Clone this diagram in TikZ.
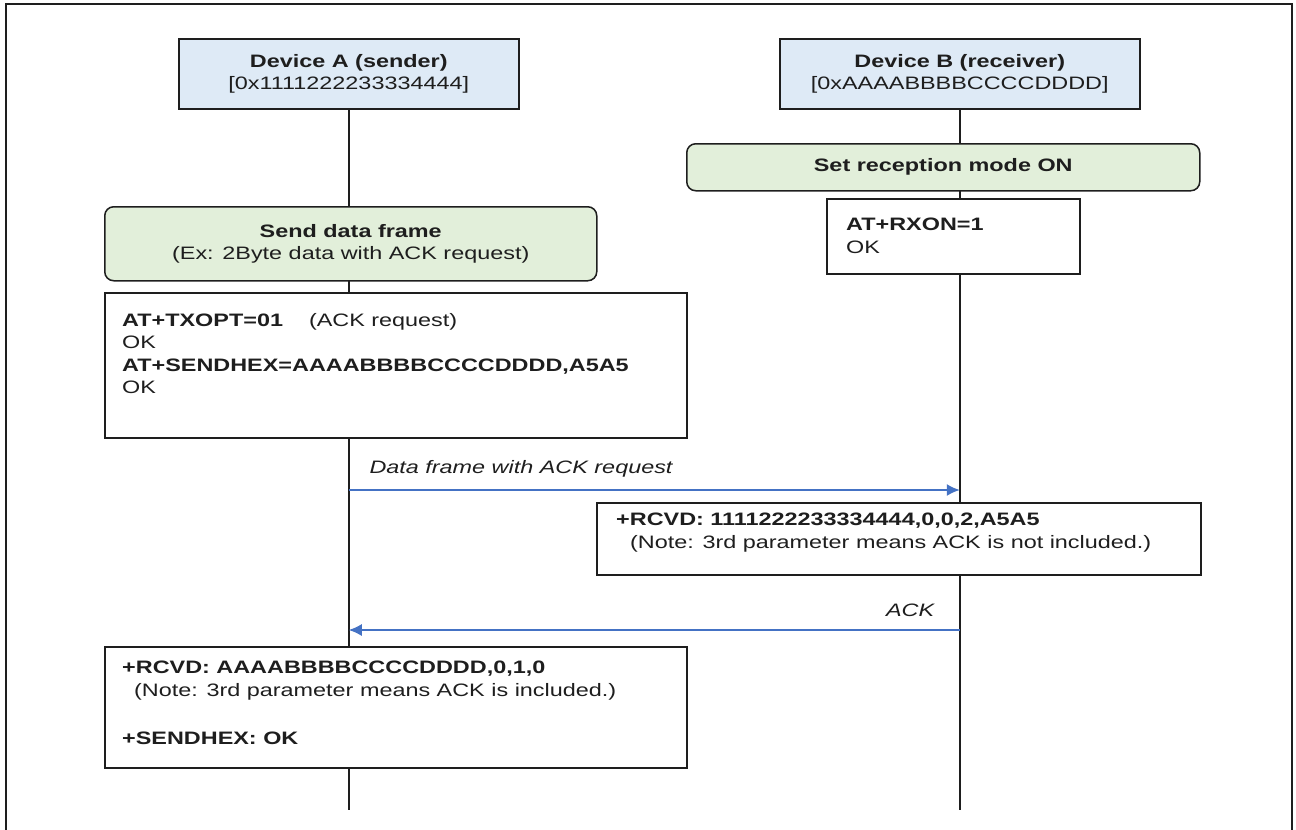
\documentclass[tikz,border=0pt]{standalone}
\usepackage{fontspec}
\setmainfont{Liberation Sans}[FakeStretch=1.3]
\usetikzlibrary{arrows.meta,positioning}
\definecolor{devblue}{HTML}{DEEAF6}
\definecolor{phasegreen}{HTML}{E2EFDA}
\definecolor{msgblue}{HTML}{4472C4}
\definecolor{inkgray}{HTML}{1E1E1E}
\tikzset{
  devbox/.style={draw=inkgray,line width=1.5pt,fill=devblue,align=center,inner sep=0pt,anchor=north west},
  phasebox/.style={draw=inkgray,line width=1.5pt,fill=phasegreen,rounded corners=9pt,align=center,inner sep=0pt,anchor=north west},
  cmdbox/.style={draw=inkgray,line width=1.5pt,fill=white,inner sep=0pt,anchor=north west},
  cmdtext/.style={anchor=north west,align=left,inner sep=0pt},
  msglabel/.style={text=inkgray,inner sep=0pt},
  lifeline/.style={line width=1.5pt,inkgray},
  msg/.style={line width=1.5pt,msgblue,-{Latex[length=13pt,width=12pt]}},
}
\begin{document}
\begin{tikzpicture}[x=1pt,y=-1pt,font=\fontsize{18}{22.5}\selectfont,text=inkgray]
    \useasboundingbox (0,0) rectangle (1296,830);
    \draw[line width=2pt,inkgray] (6,840) -- (6,4) -- (1292,4) -- (1292,840);
    % devices
    \node[devbox,minimum width=340,minimum height=70] (devA) at (178,38) {\textbf{Device A (sender)}\\ {[0x1111222233334444]}};
    \node[devbox,minimum width=360,minimum height=70] (devB) at (779,38) {\textbf{Device B (receiver)}\\ {[0xAAAABBBBCCCCDDDD]}};
    \coordinate (endA) at (devA.south |- 0,810);
    \coordinate (endB) at (devB.south |- 0,810);
    \draw[lifeline] (devA.south) -- (endA);
    \draw[lifeline] (devB.south) -- (endB);
    % device B setup
    \node[phasebox,minimum width=513,minimum height=47] (rxPhase) at (686,143) {\textbf{Set reception mode ON}};
    \node[cmdbox,minimum width=253,minimum height=75] (rxon) at (826,198) {};
    \node[cmdtext] (rxonText) at (846,218) {\textbf{AT+RXON=1}\\ OK};
    % device A send
    \node[phasebox,minimum width=492,minimum height=74] (txPhase) at (104,206) {\textbf{Send data frame}\\ (Ex: 2Byte data with ACK request)};
    \node[cmdbox,minimum width=582,minimum height=145] (txopt) at (104,292) {};
    \node[cmdtext] (txoptText) at (122,313) {\textbf{AT+TXOPT=01}\hspace{26pt}(ACK request)\\ OK\\ \textbf{AT+SENDHEX=AAAABBBBCCCCDDDD,A5A5}\\ OK};
    % data frame
    \coordinate (dataA) at (devA.south |- 0,490);
    \coordinate (dataB) at (devB.south |- 0,490);
    \draw[msg] (dataA) -- node[msglabel,at start,anchor=base west,xshift=20pt,yshift=17pt] (dataLbl) {\textit{Data frame with ACK request}} (dataB);
    \node[cmdbox,minimum width=604,minimum height=72] (rcvdB) at (596,502) {};
    \node[cmdtext] (rcvdBText) at (616,513) {\textbf{+RCVD: 1111222233334444,0,0,2,A5A5}\\ \hspace{14pt}(Note: 3rd parameter means ACK is not included.)};
    % ack
    \coordinate (ackB) at (devB.south |- 0,630);
    \coordinate (ackA) at (devA.south |- 0,630);
    \draw[msg] (ackB) -- node[msglabel,at start,anchor=base east,xshift=-24pt,yshift=14pt] (ackLbl) {\textit{ACK}} (ackA);
    \node[cmdbox,minimum width=582,minimum height=121] (rcvdA) at (104,646) {};
    \node[cmdtext] (rcvdAText) at (122,661) {\textbf{+RCVD: AAAABBBBCCCCDDDD,0,1,0}\\ \hspace{12pt}(Note: 3rd parameter means ACK is included.)\\[26pt] \textbf{+SENDHEX: OK}};
\end{tikzpicture}
\end{document}
